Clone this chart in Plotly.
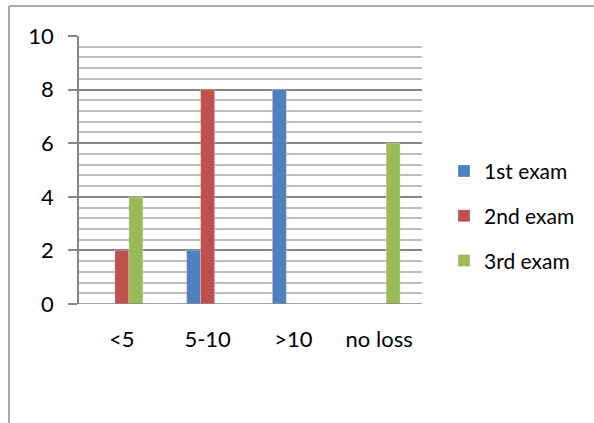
import plotly.graph_objects as go

categories = ["<5", "5-10", ">10", "no loss"]
series_names = ["1st exam", "2nd exam", "3rd exam"]
exam1 = [0, 2, 8, 0]
exam2 = [2, 8, 0, 0]
exam3 = [4, 0, 0, 6]
colors = ["#4F81BD", "#C0504D", "#9BBB59"]
y_ticks = [0, 2, 4, 6, 8, 10]

FONT = "Lato"
fig = go.Figure()
for i, (name, vals) in enumerate(zip(series_names, [exam1, exam2, exam3])):
    fig.add_trace(go.Bar(
        x=categories, y=vals, name=name,
        marker=dict(color=colors[i], line=dict(color="rgba(255,255,255,0.5)", width=0.5)),
        legendgroup=name,
    ))

L, R, T, B = 79, 422, 36, 304.5
W, H = 594, 423
pw, ph = R - L, B - T

fig.update_layout(
    width=W, height=H,
    margin=dict(l=L, r=W - R, t=T, b=H - B, pad=0),
    paper_bgcolor="white", plot_bgcolor="white",
    barmode="group", bargap=0.51, bargroupgap=0,
    font=dict(family=FONT, size=22, color="black"),
    showlegend=True,
    legend=dict(
        x=(484 - 40 - L) / pw, xanchor="left",
        y=(B - 151) / ph, yanchor="top",
        font=dict(size=21, family=FONT, color="black"),
        tracegroupgap=14.5, traceorder="grouped",
        bgcolor="rgba(0,0,0,0)",
    ),
    xaxis=dict(
        showline=False, ticks="", showgrid=False,
        tickfont=dict(size=22), ticklabelstandoff=20,
        fixedrange=True,
    ),
    yaxis=dict(
        range=[0, 10], tickvals=y_ticks, ticktext=[str(v) for v in y_ticks],
        showline=True, linecolor="#868686", linewidth=1.5,
        ticks="outside", ticklen=9, tickcolor="#868686", tickwidth=1.5,
        showgrid=True, gridcolor="#868686", gridwidth=1.5,
        zeroline=False,
        minor=dict(dtick=0.4, tick0=0, showgrid=True, gridcolor="#BDBDBD", gridwidth=1.5, ticks=""),
        tickfont=dict(size=22), ticklabelstandoff=10,
        fixedrange=True,
    ),
)
fig.add_shape(type="line", xref="paper", yref="y",
              x0=(70 - L) / pw, x1=1, y0=0, y1=0,
              line=dict(color="#868686", width=1.5), layer="above")
bx = (9 - L) / pw
by_top = (B - 6) / ph
by_bot = (B - H - 5) / ph
fig.add_shape(type="line", xref="paper", yref="paper", x0=bx, x1=bx, y0=by_bot, y1=by_top,
              line=dict(color="#8C8C8C", width=1.5))
fig.add_shape(type="line", xref="paper", yref="paper", x0=bx, x1=(W + 5 - L) / pw, y0=by_top, y1=by_top,
              line=dict(color="#8C8C8C", width=1.5))

fig.write_html("out.html", config={"displayModeBar": False},
               post_script="document.body.style.margin='0px';document.body.style.overflow='hidden';")
